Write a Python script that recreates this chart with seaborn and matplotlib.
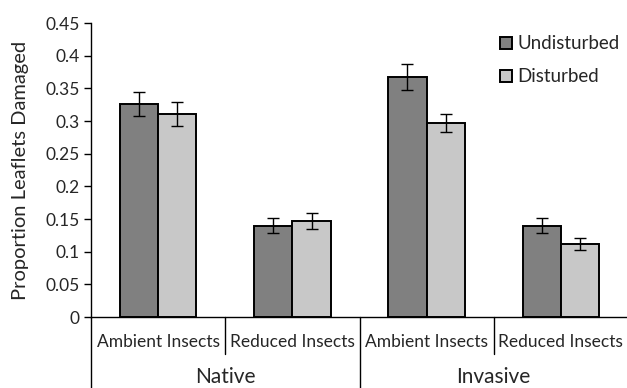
import pandas as pd
import numpy as np
import matplotlib.pyplot as plt
import seaborn as sns

# dados
origens = ["Native", "Native", "Invasive", "Invasive"]
tratamentos = ["Ambient Insects", "Reduced Insects", "Ambient Insects", "Reduced Insects"]
undisturbed = [0.326, 0.140, 0.368, 0.140]
disturbed = [0.311, 0.147, 0.297, 0.112]
erro_undisturbed = [0.019, 0.011, 0.020, 0.011]
erro_disturbed = [0.018, 0.012, 0.014, 0.009]

sns.set_theme(style="white")
plt.rcParams['font.family'] = ['Lato', 'DejaVu Sans']

cats = [f"{o}\n{t}" for o, t in zip(origens, tratamentos)]
df = pd.DataFrame({
    'Cat': cats * 2,
    'Perturbacao': ['Undisturbed'] * 4 + ['Disturbed'] * 4,
    'Valor': undisturbed + disturbed,
    'Erro': erro_undisturbed + erro_disturbed,
})

fig = plt.figure(figsize=(6.27, 3.88), dpi=100)
ax = fig.add_axes([91 / 627, 71 / 388, 537 / 627, 294 / 388])

sns.barplot(data=df, x='Cat', y='Valor', hue='Perturbacao', order=cats,
            hue_order=['Undisturbed', 'Disturbed'],
            palette=['#808080', '#c8c8c8'], errorbar=None, width=0.57,
            edgecolor='black', linewidth=1.4, saturation=1, ax=ax)

# barras de erro nos centros das barras
barras = [p for p in ax.patches if p.get_height() > 0]
for p, e in zip(barras, erro_undisturbed + erro_disturbed):
    xc = p.get_x() + p.get_width() / 2
    ax.errorbar(xc, p.get_height(), yerr=e, color='black', lw=1, capsize=4, capthick=1)

ax.set_xlim(-0.5, 3.5)
ax.set_ylim(0, 0.45)
ax.set_yticks(np.arange(0, 0.46, 0.05))
ax.set_yticklabels(['0'] + [f"{v:g}" for v in np.arange(0.05, 0.46, 0.05)], fontsize=12.5)
ax.tick_params(axis='y', which='both', left=True, length=5, width=1, color='black', pad=3)
ax.set_xticks([])
ax.set_xlabel("")
ax.set_ylabel("Proportion Leaflets Damaged", fontsize=14.5, labelpad=12)
sns.despine(ax=ax)
for s in ['left', 'bottom']:
    ax.spines[s].set_color('black')
    ax.spines[s].set_linewidth(1)

# eixo de categorias em dois níveis
trans = ax.get_xaxis_transform()
for i, t in enumerate(tratamentos):
    ax.text(i, -0.085, t, transform=trans, ha='center', va='center', fontsize=12.5)
for g, nome in enumerate(["Native", "Invasive"]):
    ax.text(2 * g + 0.5, -0.205, nome, transform=trans, ha='center', va='center', fontsize=15)
for x in [0.5, 2.5]:
    ax.plot([x, x], [0, -0.126], transform=trans, color='black', lw=1, clip_on=False)
for x in [-0.5, 1.5]:
    ax.plot([x, x], [0, -0.25], transform=trans, color='black', lw=1, clip_on=False)

leg = ax.legend(title=None, frameon=False, loc='upper left', bbox_to_anchor=(0.73, 1.015),
                handlelength=0.65, handleheight=0.65, handletextpad=0.3, labelspacing=0.85,
                fontsize=13.5)

plt.savefig('out.png', dpi=100)
